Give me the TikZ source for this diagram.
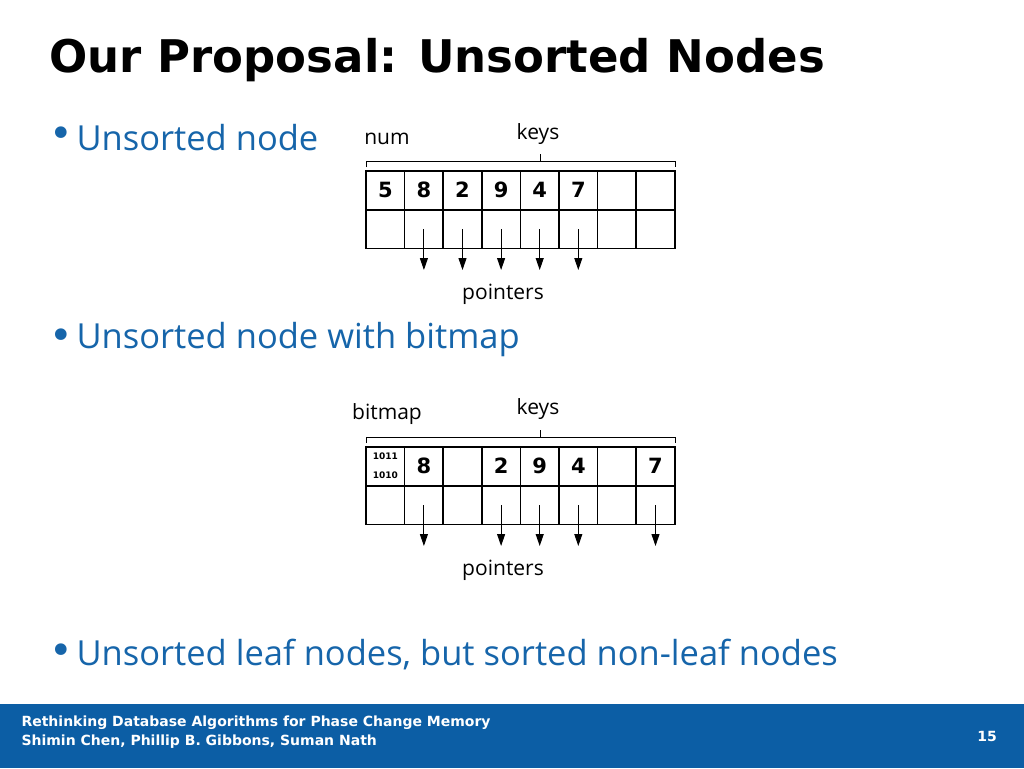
\documentclass[tikz,border=0pt]{standalone}
\usepackage{fontspec}
\setmainfont{Open Sans}
\newfontfamily\titlefont{DejaVu Sans}
\usetikzlibrary{positioning, arrows.meta}
\definecolor{slideblue}{RGB}{22,101,170}
\definecolor{barblue}{RGB}{12,94,165}
\tikzset{
  cell/.style={draw, line width=1.6pt, minimum width=38.7pt, minimum height=38.6pt, inner sep=0pt, font=\titlefont\bfseries\fontsize{21}{21}\selectfont},
  ptr/.style={-{Triangle[length=12pt,width=8pt]}, line width=1pt},
  lab/.style={font=\fontsize{21}{21}\selectfont},
  bullet/.style={anchor=west, text=slideblue, font=\fontsize{34.5}{34.5}\selectfont},
  dot/.style={text=slideblue, font=\titlefont\fontsize{40}{40}\selectfont}
}
\begin{document}
\begin{tikzpicture}[x=1pt, y=-1pt]
    \useasboundingbox (0,0) rectangle (1024,768);
    \fill[barblue] (0,704) rectangle (1024,768);
    \node[anchor=west, font=\titlefont\bfseries\fontsize{45}{45}\selectfont] (title) at (46,60) {Our Proposal: Unsorted Nodes};
    \node[bullet] (b1) at (73,138) {Unsorted node};
    \node[bullet] (b2) at (73,340) {Unsorted node with bitmap};
    \node[bullet] (b3) at (73,655) {Unsorted leaf nodes, but sorted non-leaf nodes};
    \foreach \b in {b1,b2,b3} \node[dot, anchor=east] at ([xshift=4pt,yshift=1pt]\b.west) {•};
    \node[anchor=west, text=white, font=\titlefont\bfseries\fontsize{14}{19}\selectfont, align=left] (foot) at (18,732) {Rethinking Database Algorithms for Phase Change Memory\\Shimin Chen, Phillip B. Gibbons, Suman Nath};
    \node[text=white, font=\titlefont\bfseries\fontsize{14}{14}\selectfont] (page) at (987,736) {15};
    % unsorted node
    \foreach \k/\v in {1/5,2/8,3/2,4/9,5/4,6/7,7/,8/} {
        \node[cell] (a\k) at ({366+38.6*(\k-0.5)},190) {\v};
        \node[cell] (p\k) at ({366+38.6*(\k-0.5)},229) {};
    }
    \foreach \k in {2,...,6} {
        \coordinate (e\k) at ({366+38.6*(\k-0.5)},270);
        \draw[ptr] (p\k.center) -- (e\k);
    }
    \coordinate (l1) at (366,167); \coordinate (r1) at (675,167);
    \draw[line width=0.8pt] (l1) -- ++(0,-6) -| (r1) (540,161) -- (540,154);
    \node[lab] (num) at (387,139) {num};
    \node[lab] (keys1) at (538,134) {keys};
    \node[lab] (ptrs1) at (503,294) {pointers};
    % unsorted node with bitmap
    \foreach \k/\v in {1/,2/8,3/,4/2,5/9,6/4,7/,8/7} {
        \node[cell] (c\k) at ({366+38.6*(\k-0.5)},466) {\v};
        \node[cell] (q\k) at ({366+38.6*(\k-0.5)},505) {};
    }
    \node[font=\titlefont\bfseries\fontsize{9}{19}\selectfont, align=center] (bits) at (c1) {1011\\1010};
    \foreach \k in {2,4,5,6,8} {
        \coordinate (f\k) at ({366+38.6*(\k-0.5)},546);
        \draw[ptr] (q\k.center) -- (f\k);
    }
    \coordinate (l2) at (366,443); \coordinate (r2) at (675,443);
    \draw[line width=0.8pt] (l2) -- ++(0,-6) -| (r2) (540,437) -- (540,430);
    \node[lab] (bitmap) at (387,414) {bitmap};
    \node[lab] (keys2) at (538,409) {keys};
    \node[lab] (ptrs2) at (503,570) {pointers};
\end{tikzpicture}
\end{document}
